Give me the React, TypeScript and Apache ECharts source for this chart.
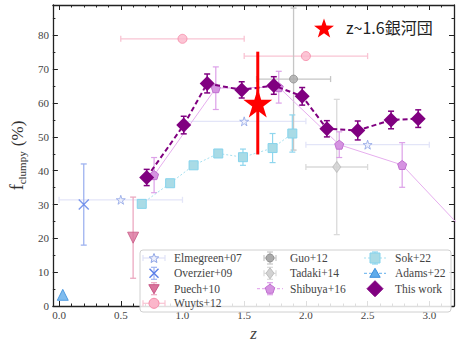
import React, { useEffect, useRef } from "react";
import * as echarts from "echarts";

// ---------- axis ticks ----------
const xMajor = [0, 0.5, 1.0, 1.5, 2.0, 2.5, 3.0];
const yMajor = [0, 10, 20, 30, 40, 50, 60, 70, 80];
const xMinor: number[] = [];
for (let i = 0; i <= 32; i++) xMinor.push(i / 10);
const yMinor: number[] = [];
for (let i = 0; i <= 17; i++) yMinor.push(i * 5);

// ---------- data ----------
const elmZ = [0.5, 1.5, 2.5];
const elmF = [31.4, 54.6, 47.7];
const elmXerr = [0.5, 0.5, 0.5];

const overZ = [0.2];
const overF = [30.0];
const overYerr = [12.0];

const puechZ = [0.6];
const puechF = [20.2];
const puechYerr = [12.0];

const wuytsZ = [1.0, 2.0];
const wuytsF = [79.0, 73.9];
const wuytsXerr = [0.5, 0.5];

const guoZ = [1.9];
const guoF = [67.1];
const guoXerr = [0.3];
const guoYerr = [21.0];

const tadakiZ = [2.25];
const tadakiF = [41.1];
const tadakiXerr = [0.25];
const tadakiYerr = [20.0];

const shibuyaZ = [0.77, 1.27, 1.78, 2.27, 2.78, 3.5];
const shibuyaF = [38.7, 64.4, 64.7, 47.7, 41.7, 13.8];
const shibuyaYerr = [5.2, 6.3, 4.7, 3.8, 6.6, 0];

const sokZ = [0.67, 0.9, 1.09, 1.29, 1.49, 1.73, 1.89];
const sokF = [30.2, 36.3, 41.6, 45.1, 44.0, 46.7, 51.0];
const sokYerr = [0, 0, 0, 0, 2.4, 4.3, 5.5];

const adamsZ = [0.03];
const adamsF = [3.3];

const thisZ = [0.71, 1.01, 1.2, 1.48, 1.74, 1.97, 2.17, 2.42, 2.69, 2.91];
const thisF = [38.0, 53.5, 65.8, 63.9, 65.2, 62.0, 52.4, 51.9, 55.0, 55.4];
const thisYerr = [2.4, 2.6, 2.8, 2.4, 2.6, 2.6, 2.4, 2.8, 2.6, 2.6];

const clusterZ = [1.61];
const clusterF = [60.0];
const clusterYerr = [15.2];

const legendCol1 = ["Elmegreen+07", "Overzier+09", "Puech+10", "Wuyts+12"];
const legendCol2 = ["Guo+12", "Tadaki+14", "Shibuya+16"];
const legendCol3 = ["Sok+22", "Adams+22", "This work"];

// ---------- styles ----------
const SERIF = "Liberation Serif";
const STAR = "path://M50,0 L61.2,34.5 L97.6,34.5 L68.2,55.9 L79.4,90.5 L50,69.1 L20.6,90.5 L31.8,55.9 L2.4,34.5 L38.8,34.5 Z";
const PENTA = "path://M50,0 L97.6,34.5 L79.4,90.5 L20.6,90.5 L2.4,34.5 Z";
const XMARK = "path://M0,0 L100,100 M100,0 L0,100";

const C = {
  elm: { fill: "#eef0fc", edge: "#8ea4e6", bar: "#e3e5f8" },
  over: { fill: "none", edge: "#5b7fe8", bar: "#9fb3f0" },
  puech: { fill: "#da739c", edge: "#c85785", bar: "#eca9c1" },
  wuyts: { fill: "#fbb6ca", edge: "#f58aa8", bar: "#f9c4d3" },
  guo: { fill: "#aaaaaa", edge: "#909090", bar: "#c6c6c6" },
  tadaki: { fill: "#d2d2d2", edge: "#bdbdbd", bar: "#dadada" },
  shibuya: { fill: "#d593e1", edge: "#c070d0", bar: "#dca0e8", line: "#e6aeee" },
  sok: { fill: "#a9dbe6", edge: "#86d3ec", bar: "#8fd6ee", line: "#a5e0f0" },
  adams: { fill: "#5fabea", edge: "#3a8edc", line: "#7fbef0" },
  mine: { fill: "#800080" },
};

// ---------- helpers ----------
function rows(z: number[], f: number[], xe?: number[], ye?: number[]) {
  return z.map((v, i) => [v, f[i], xe ? xe[i] : 0, xe ? xe[i] : 0, ye ? ye[i] : 0, ye ? ye[i] : 0]);
}

function errSeries(name: string, data: number[][], color: string, width: number, cap: number, z: number) {
  return {
    type: "custom",
    name: name + "_err",
    silent: true,
    z,
    clip: true,
    encode: { x: 0, y: 1 },
    data,
    renderItem: (_p: any, api: any) => {
      const x = api.value(0);
      const y = api.value(1);
      const xl = api.value(2);
      const xh = api.value(3);
      const yl = api.value(4);
      const yh = api.value(5);
      const style = { stroke: color, lineWidth: width, fill: "none" };
      const children: any[] = [];
      if (yl > 0 || yh > 0) {
        const t = api.coord([x, y + yh]);
        const b = api.coord([x, y - yl]);
        children.push({ type: "line", shape: { x1: t[0], y1: t[1], x2: b[0], y2: b[1] }, style });
        if (cap > 0) {
          children.push({ type: "line", shape: { x1: t[0] - cap, y1: t[1], x2: t[0] + cap, y2: t[1] }, style });
          children.push({ type: "line", shape: { x1: b[0] - cap, y1: b[1], x2: b[0] + cap, y2: b[1] }, style });
        }
      }
      if (xl > 0 || xh > 0) {
        const l = api.coord([x - xl, y]);
        const r = api.coord([x + xh, y]);
        children.push({ type: "line", shape: { x1: l[0], y1: l[1], x2: r[0], y2: r[1] }, style });
        if (cap > 0) {
          children.push({ type: "line", shape: { x1: l[0], y1: l[1] - cap, x2: l[0], y2: l[1] + cap }, style });
          children.push({ type: "line", shape: { x1: r[0], y1: r[1] - cap, x2: r[0], y2: r[1] + cap }, style });
        }
      }
      return { type: "group", children };
    },
  };
}

function pts(z: number[], f: number[]) {
  return z.map((v, i) => [v, f[i]]);
}

function regPoly(cx: number, cy: number, R: number, n: number, rot: number) {
  const p: number[][] = [];
  for (let i = 0; i < n; i++) {
    const a = rot + (i * 2 * Math.PI) / n;
    p.push([cx + R * Math.cos(a), cy + R * Math.sin(a)]);
  }
  return p;
}
function starPoints(cx: number, cy: number, R: number, r: number) {
  const p: number[][] = [];
  for (let i = 0; i < 10; i++) {
    const a = -Math.PI / 2 + (i * Math.PI) / 5;
    const rad = i % 2 === 0 ? R : r;
    p.push([cx + rad * Math.cos(a), cy + rad * Math.sin(a)]);
  }
  return p;
}

// legend helpers (layout only)
const LZ = 60;
function gLine(x1: number, y1: number, x2: number, y2: number, stroke: string, w = 1.2, dash?: number[]) {
  return { type: "line", z: LZ, shape: { x1, y1, x2, y2 }, style: { stroke, lineWidth: w, lineDash: dash } };
}
function vBar(cx: number, cy: number, h: number, stroke: string) {
  return [gLine(cx, cy - h, cx, cy + h, stroke), gLine(cx - 3, cy - h, cx + 3, cy - h, stroke), gLine(cx - 3, cy + h, cx + 3, cy + h, stroke)];
}
function hBar(cx: number, cy: number, w: number, stroke: string) {
  return [gLine(cx - w, cy, cx + w, cy, stroke), gLine(cx - w, cy - 3, cx - w, cy + 3, stroke), gLine(cx + w, cy - 3, cx + w, cy + 3, stroke)];
}
function gPoly(points: number[][], fill: string, stroke: string) {
  return { type: "polygon", z: LZ + 1, shape: { points }, style: { fill, stroke, lineWidth: 1 } };
}
function gText(x: number, y: number, text: string) {
  return {
    type: "text",
    z: LZ + 1,
    x,
    y,
    style: { text, fontFamily: SERIF, fontSize: 11.5, fill: "#444", verticalAlign: "middle", align: "left" },
  };
}

const AX = "#222";
const X_MIN = -0.05;
const X_MAX = 3.2;
const Y_MIN = 0;
const Y_MAX = 89;

function xAx(pos: "bottom" | "top", major: boolean, labels: boolean, name?: boolean): any {
  return {
    type: "value",
    position: pos,
    min: X_MIN,
    max: X_MAX,
    splitLine: { show: false },
    axisLine: { show: major, onZero: false, lineStyle: { color: AX, width: 1.3 } },
    axisTick: {
      show: true,
      inside: true,
      length: major ? 5 : 2.5,
      customValues: major ? xMajor : xMinor,
      lineStyle: { color: AX, width: 1 },
    },
    axisLabel: labels
      ? {
          show: true,
          customValues: xMajor,
          formatter: (v: number) => v.toFixed(1),
          fontFamily: SERIF,
          fontSize: 11,
          color: "#444",
          margin: 3,
        }
      : { show: false },
    name: name ? "z" : "",
    nameLocation: "middle",
    nameGap: 19,
    nameTextStyle: { fontFamily: SERIF, fontStyle: "italic", fontSize: 17, color: "#444" },
  };
}

function yAx(pos: "left" | "right", major: boolean, labels: boolean, name?: boolean): any {
  return {
    type: "value",
    position: pos,
    min: Y_MIN,
    max: Y_MAX,
    splitLine: { show: false },
    axisLine: { show: major, onZero: false, lineStyle: { color: AX, width: 1.3 } },
    axisTick: {
      show: true,
      inside: true,
      length: major ? 5 : 2.5,
      customValues: major ? yMajor : yMinor,
      lineStyle: { color: AX, width: 1 },
    },
    axisLabel: labels
      ? {
          show: true,
          customValues: yMajor,
          fontFamily: SERIF,
          fontSize: 11,
          color: "#444",
          margin: 4,
        }
      : { show: false },
    name: name ? "{f|f}{s|clumpy}{p| (%)}" : "",
    nameLocation: "middle",
    nameGap: 18,
    nameTextStyle: {
      fontFamily: SERIF,
      fontSize: 17,
      color: "#333",
      rich: {
        f: { fontFamily: SERIF, fontSize: 18, color: "#333", lineHeight: 20, verticalAlign: "middle" },
        s: { fontFamily: SERIF, fontSize: 11, color: "#333", lineHeight: 20, verticalAlign: "bottom", padding: [7, 1, 0, 0] },
        p: { fontFamily: SERIF, fontSize: 17, color: "#333", lineHeight: 20, verticalAlign: "middle" },
      },
    },
  };
}

function buildLegend(): any[] {
  const rowsY = [258, 273.3, 288.7, 303.3];
  const c1 = 154, c2 = 270, c3 = 375;
  const t1 = 174, t2 = 290, t3 = 395;
  const g: any[] = [];
  g.push(...hBar(c1, rowsY[0], 11, "#dfe2f7"), gPoly(starPoints(c1, rowsY[0] + 0.5, 5, 2.2), C.elm.fill, C.elm.edge));
  g.push(...vBar(c1, rowsY[1], 6, C.over.bar));
  g.push(gLine(c1 - 4.5, rowsY[1] - 4.5, c1 + 4.5, rowsY[1] + 4.5, C.over.edge, 1.4), gLine(c1 + 4.5, rowsY[1] - 4.5, c1 - 4.5, rowsY[1] + 4.5, C.over.edge, 1.4));
  g.push(...vBar(c1, rowsY[2], 6, C.puech.bar), gPoly(regPoly(c1, rowsY[2] - 1, 6, 3, Math.PI / 2), C.puech.fill, C.puech.edge));
  g.push(...hBar(c1, rowsY[3], 11, C.wuyts.bar), { type: "circle", z: LZ + 1, shape: { cx: c1, cy: rowsY[3], r: 5 }, style: { fill: C.wuyts.fill, stroke: C.wuyts.edge, lineWidth: 1 } });
  g.push(...vBar(c2, rowsY[0], 6, C.guo.bar), ...hBar(c2, rowsY[0], 6, C.guo.bar), { type: "circle", z: LZ + 1, shape: { cx: c2, cy: rowsY[0], r: 4 }, style: { fill: C.guo.fill, stroke: C.guo.edge, lineWidth: 1 } });
  g.push(...vBar(c2, rowsY[1], 6, C.tadaki.bar), ...hBar(c2, rowsY[1], 6, C.tadaki.bar), gPoly([[c2, rowsY[1] - 5.5], [c2 + 4, rowsY[1]], [c2, rowsY[1] + 5.5], [c2 - 4, rowsY[1]]], C.tadaki.fill, C.tadaki.edge));
  g.push(gLine(c2 - 13, rowsY[2], c2 + 13, rowsY[2], C.shibuya.line, 1.2, [3, 2]), ...vBar(c2, rowsY[2], 6, C.shibuya.bar), gPoly(regPoly(c2, rowsY[2] + 0.5, 5, 5, -Math.PI / 2), C.shibuya.fill, C.shibuya.edge));
  g.push(gLine(c3 - 11, rowsY[0], c3 + 11, rowsY[0], C.sok.line, 1.2, [2, 2]), ...vBar(c3, rowsY[0], 6, C.sok.bar), { type: "rect", z: LZ + 1, shape: { x: c3 - 5, y: rowsY[0] - 5, width: 10, height: 10 }, style: { fill: C.sok.fill, stroke: C.sok.edge, lineWidth: 1 } });
  g.push(gLine(c3 - 11, rowsY[1], c3 + 11, rowsY[1], C.adams.line, 1.2, [3, 2]), gPoly(regPoly(c3, rowsY[1] + 1, 6, 3, -Math.PI / 2), C.adams.fill, C.adams.edge));
  g.push(gPoly([[c3, rowsY[2] - 8], [c3 + 8, rowsY[2]], [c3, rowsY[2] + 8], [c3 - 8, rowsY[2]]], C.mine.fill, C.mine.fill));
  legendCol1.forEach((t, i) => g.push(gText(t1, rowsY[i], t)));
  legendCol2.forEach((t, i) => g.push(gText(t2, rowsY[i], t)));
  legendCol3.forEach((t, i) => g.push(gText(t3, rowsY[i], t)));
  return g;
}

export default function App() {
  const ref = useRef<HTMLDivElement>(null);
  useEffect(() => {
    if (!ref.current) return;
    const chart = echarts.init(ref.current, undefined, { renderer: "svg" });
    const option: any = {
      animation: false,
      backgroundColor: "#fff",
      grid: { left: 50, right: 17, top: 5, bottom: 27, containLabel: false },
      xAxis: [xAx("bottom", true, true, true), xAx("bottom", false, false), xAx("top", true, false), xAx("top", false, false)],
      yAxis: [yAx("left", true, true, true), yAx("left", false, false), yAx("right", true, false), yAx("right", false, false)],
      graphic: [
        {
          type: "rect",
          z: 50,
          shape: { x: 140, y: 250, width: 311, height: 62, r: 3 },
          style: { fill: "rgba(255,255,255,0.85)", stroke: "#d0d0d0", lineWidth: 1 },
        },
        ...buildLegend(),
        {
          type: "polygon",
          z: 100,
          shape: { points: starPoints(324, 29, 10.5, 4.2) },
          style: { fill: "#ff0000" },
        },
        {
          type: "text",
          z: 100,
          x: 346,
          y: 27,
          style: {
            text: "z~1.6銀河団",
            fontFamily: "Noto Sans CJK JP",
            fontSize: 16,
            fill: "#222",
            verticalAlign: "middle",
            align: "left",
          },
        },
      ],
      series: [
        errSeries("Elmegreen+07", rows(elmZ, elmF, elmXerr), C.elm.bar, 1.3, 3, 2),
        errSeries("Overzier+09", rows(overZ, overF, undefined, overYerr), C.over.bar, 1.3, 3, 2),
        errSeries("Puech+10", rows(puechZ, puechF, undefined, puechYerr), C.puech.bar, 1.3, 3, 2),
        errSeries("Wuyts+12", rows(wuytsZ, wuytsF, wuytsXerr), C.wuyts.bar, 1.3, 3, 2),
        errSeries("Guo+12", rows(guoZ, guoF, guoXerr, guoYerr), C.guo.bar, 1.3, 3, 2),
        errSeries("Tadaki+14", rows(tadakiZ, tadakiF, tadakiXerr, tadakiYerr), C.tadaki.bar, 1.3, 3, 2),
        errSeries("Shibuya+16", rows(shibuyaZ, shibuyaF, undefined, shibuyaYerr), C.shibuya.bar, 1.2, 3, 2),
        errSeries("Sok+22", rows(sokZ, sokF, undefined, sokYerr), C.sok.bar, 1.2, 3, 2),
        {
          type: "scatter", name: "Elmegreen+07", z: 3, symbol: STAR, symbolSize: 9,
          itemStyle: { color: C.elm.fill, borderColor: C.elm.edge, borderWidth: 1 },
          data: pts(elmZ, elmF),
        },
        {
          type: "scatter", name: "Overzier+09", z: 3, symbol: XMARK, symbolSize: 10,
          itemStyle: { color: "none", borderColor: C.over.edge, borderWidth: 1.4 },
          data: pts(overZ, overF),
        },
        {
          type: "scatter", name: "Puech+10", z: 3, symbol: "triangle", symbolRotate: 180, symbolSize: 11,
          itemStyle: { color: C.puech.fill, borderColor: C.puech.edge, borderWidth: 1 },
          data: pts(puechZ, puechF),
        },
        {
          type: "scatter", name: "Wuyts+12", z: 3, symbol: "circle", symbolSize: 9,
          itemStyle: { color: C.wuyts.fill, borderColor: C.wuyts.edge, borderWidth: 1 },
          data: pts(wuytsZ, wuytsF),
        },
        {
          type: "scatter", name: "Guo+12", z: 3, symbol: "circle", symbolSize: 8,
          itemStyle: { color: C.guo.fill, borderColor: C.guo.edge, borderWidth: 1 },
          data: pts(guoZ, guoF),
        },
        {
          type: "scatter", name: "Tadaki+14", z: 3, symbol: "diamond", symbolSize: [8, 11],
          itemStyle: { color: C.tadaki.fill, borderColor: C.tadaki.edge, borderWidth: 1 },
          data: pts(tadakiZ, tadakiF),
        },
        {
          type: "line", name: "Shibuya+16", z: 3, symbol: PENTA, symbolSize: 9, clip: true,
          itemStyle: { color: C.shibuya.fill, borderColor: C.shibuya.edge, borderWidth: 1 },
          lineStyle: { color: C.shibuya.line, width: 1 },
          data: pts(shibuyaZ, shibuyaF),
        },
        {
          type: "line", name: "Sok+22", z: 3, symbol: "rect", symbolSize: 9, clip: true,
          itemStyle: { color: C.sok.fill, borderColor: C.sok.edge, borderWidth: 1 },
          lineStyle: { color: C.sok.line, width: 1, type: [2, 2] },
          data: pts(sokZ, sokF),
        },
        {
          type: "scatter", name: "Adams+22", z: 3, symbol: "triangle", symbolSize: 11,
          itemStyle: { color: C.adams.fill, borderColor: C.adams.edge, borderWidth: 1 },
          data: pts(adamsZ, adamsF),
        },
        errSeries("This work", rows(thisZ, thisF, undefined, thisYerr), C.mine.fill, 1.5, 3, 4),
        {
          type: "line", name: "This work", z: 5, symbol: "diamond", symbolSize: 15, clip: true,
          itemStyle: { color: C.mine.fill },
          lineStyle: { color: C.mine.fill, width: 2, type: [5, 3] },
          data: pts(thisZ, thisF),
        },
        errSeries("cluster", rows(clusterZ, clusterF, undefined, clusterYerr), "#ff0000", 3, 0, 8),
        {
          type: "scatter", name: "cluster", z: 9, symbol: STAR, symbolSize: 29,
          itemStyle: { color: "#ff0000", opacity: 1 },
          data: pts(clusterZ, clusterF),
        },
      ],
    };
    chart.setOption(option);
    return () => chart.dispose();
  }, []);
  return <div ref={ref} style={{ position: "fixed", left: 0, top: 0, width: 471, height: 347 }} />;
}
